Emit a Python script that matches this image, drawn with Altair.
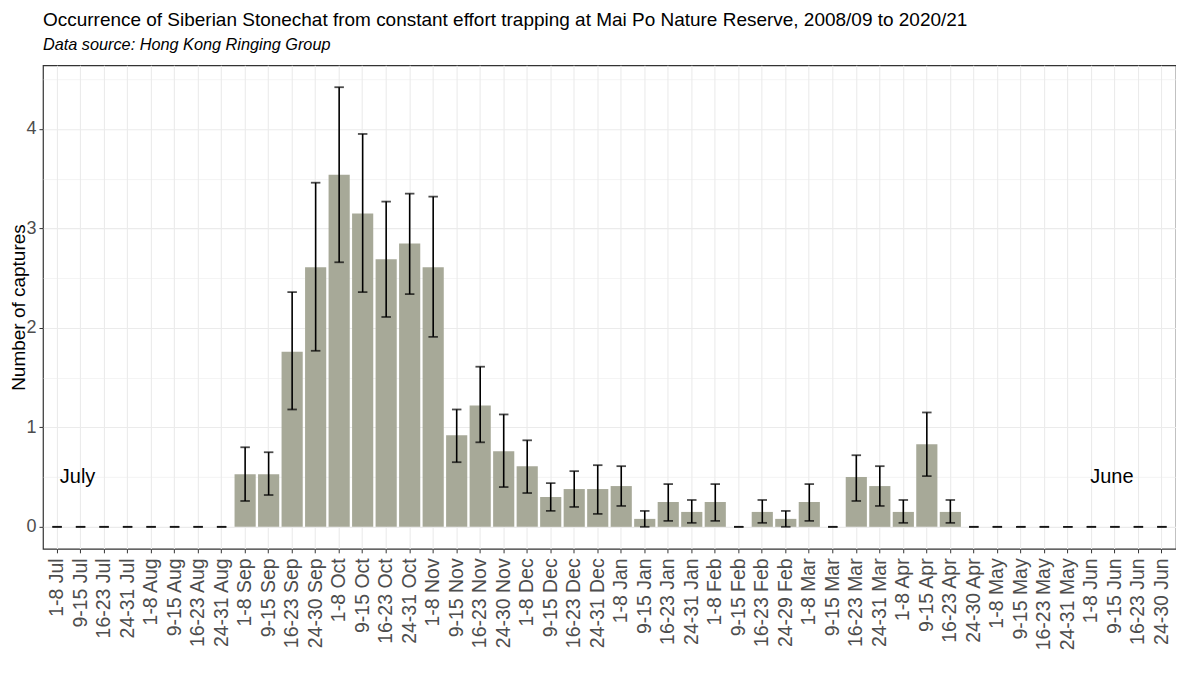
import altair as alt
import pandas as pd

periods = [
    "1-8 Jul", "9-15 Jul", "16-23 Jul", "24-31 Jul",
    "1-8 Aug", "9-15 Aug", "16-23 Aug", "24-31 Aug",
    "1-8 Sep", "9-15 Sep", "16-23 Sep", "24-30 Sep",
    "1-8 Oct", "9-15 Oct", "16-23 Oct", "24-31 Oct",
    "1-8 Nov", "9-15 Nov", "16-23 Nov", "24-30 Nov",
    "1-8 Dec", "9-15 Dec", "16-23 Dec", "24-31 Dec",
    "1-8 Jan", "9-15 Jan", "16-23 Jan", "24-31 Jan",
    "1-8 Feb", "9-15 Feb", "16-23 Feb", "24-29 Feb",
    "1-8 Mar", "9-15 Mar", "16-23 Mar", "24-31 Mar",
    "1-8 Apr", "9-15 Apr", "16-23 Apr", "24-30 Apr",
    "1-8 May", "9-15 May", "16-23 May", "24-31 May",
    "1-8 Jun", "9-15 Jun", "16-23 Jun", "24-30 Jun",
]

means = [
    0, 0, 0, 0, 0, 0, 0, 0,
    0.53, 0.53, 1.76, 2.61,
    3.54, 3.15, 2.69, 2.85,
    2.61, 0.92, 1.22, 0.76,
    0.61, 0.30, 0.38, 0.38,
    0.41, 0.08, 0.25, 0.15,
    0.25, 0, 0.15, 0.08,
    0.25, 0, 0.50, 0.41,
    0.15, 0.83, 0.15, 0,
    0, 0, 0, 0, 0, 0, 0, 0,
]

upper = [
    0, 0, 0, 0, 0, 0, 0, 0,
    0.80, 0.75, 2.36, 3.46,
    4.42, 3.95, 3.27, 3.35,
    3.32, 1.18, 1.61, 1.13,
    0.87, 0.44, 0.56, 0.62,
    0.61, 0.16, 0.43, 0.27,
    0.43, 0, 0.27, 0.16,
    0.43, 0, 0.72, 0.61,
    0.27, 1.15, 0.27, 0,
    0, 0, 0, 0, 0, 0, 0, 0,
]

lower = [
    0, 0, 0, 0, 0, 0, 0, 0,
    0.26, 0.32, 1.18, 1.77,
    2.66, 2.36, 2.11, 2.34,
    1.91, 0.65, 0.85, 0.40,
    0.34, 0.16, 0.20, 0.13,
    0.21, 0, 0.06, 0.04,
    0.06, 0, 0.04, 0,
    0.06, 0, 0.26, 0.21,
    0.04, 0.51, 0.04, 0,
    0, 0, 0, 0, 0, 0, 0, 0,
]

ann_periods = ["9-15 Jul", "9-15 Jun"]
ann_labels = ["July", "June"]
ann_y = [0.5, 0.5]

df = pd.DataFrame({"period": periods, "mean": means, "lo": lower, "hi": upper})
ann = pd.DataFrame({"period": ann_periods, "label": ann_labels, "yv": ann_y})

FONT = "Liberation Sans"
GRID = "#EBEBEB"
TICKC = "#333333"
LABC = "#4D4D4D"

xscale = alt.Scale(domain=periods, paddingInner=0.1, paddingOuter=0.15)
yscale = alt.Scale(domain=[-0.221, 4.641], nice=False, zero=False)
yvals = [0, 0.5, 1, 1.5, 2, 2.5, 3, 3.5, 4, 4.5]
is_int = "datum.value % 1 === 0"

xaxis = alt.Axis(
    labelAngle=270, labelFontSize=19.5, labelColor=LABC, labelFont=FONT,
    tickColor=TICKC, tickSize=4, tickWidth=1, labelPadding=5, domain=False,
    grid=True, gridColor=GRID, gridWidth=1.1, title=None,
)
yaxis = alt.Axis(
    values=yvals,
    labelExpr="datum.value % 1 === 0 ? format(datum.value, 'd') : ''",
    labelFontSize=18, labelColor=LABC, labelFont=FONT, labelPadding=3,
    tickColor=TICKC, tickSize=4, tickWidth=1,
    tickOpacity={"condition": {"test": is_int, "value": 1}, "value": 0},
    gridColor=GRID,
    gridWidth={"condition": {"test": is_int, "value": 1.1}, "value": 0.6},
    domain=False,
    title="Number of captures", titleFont=FONT, titleFontSize=19,
    titleFontWeight="normal", titleColor="black", titlePadding=-3,
)


def X():
    return alt.X("period:N", sort=periods, scale=xscale, axis=xaxis)


def Y(field):
    return alt.Y(f"{field}:Q", scale=yscale, axis=yaxis)


base = alt.Chart(df)

bars = base.mark_bar(color="#A7A998").encode(x=X(), y=Y("mean"))
rules = base.mark_rule(color="black", strokeWidth=1.6).encode(
    x=X(), y=Y("lo"), y2="hi:Q"
)
tick_lo = base.mark_tick(color="black", size=9.5, thickness=1.8).encode(
    x=X(), y=Y("lo")
)
tick_hi = base.mark_tick(color="black", size=9.5, thickness=1.8).encode(
    x=X(), y=Y("hi")
)
texts = alt.Chart(ann).mark_text(
    font=FONT, fontSize=20, color="black", baseline="middle", align="center", dx=-3
).encode(x=X(), y=Y("yv"), text="label:N")

chart = (
    alt.layer(bars, rules, tick_lo, tick_hi, texts)
    .properties(
        width=1134,
        height=484,
        autosize=alt.AutoSizeParams(type="none"),
        padding={"left": 35, "top": 57, "right": 0, "bottom": 130},
        background="white",
        title=alt.TitleParams(
            text="Occurrence of Siberian Stonechat from constant effort trapping at Mai Po Nature Reserve, 2008/09 to 2020/21",
            subtitle="Data source: Hong Kong Ringing Group",
            anchor="start", frame="group",
            font=FONT, fontSize=19, fontWeight="normal", color="black",
            subtitleFont=FONT, subtitleFontSize=16.3, subtitleFontStyle="italic",
            subtitleColor="black", subtitlePadding=7, offset=12,
        ),
    )
    .configure_view(stroke="#333333", strokeWidth=1.2)
)

chart.save("out.html", embed_options={"renderer": "svg", "actions": False})
